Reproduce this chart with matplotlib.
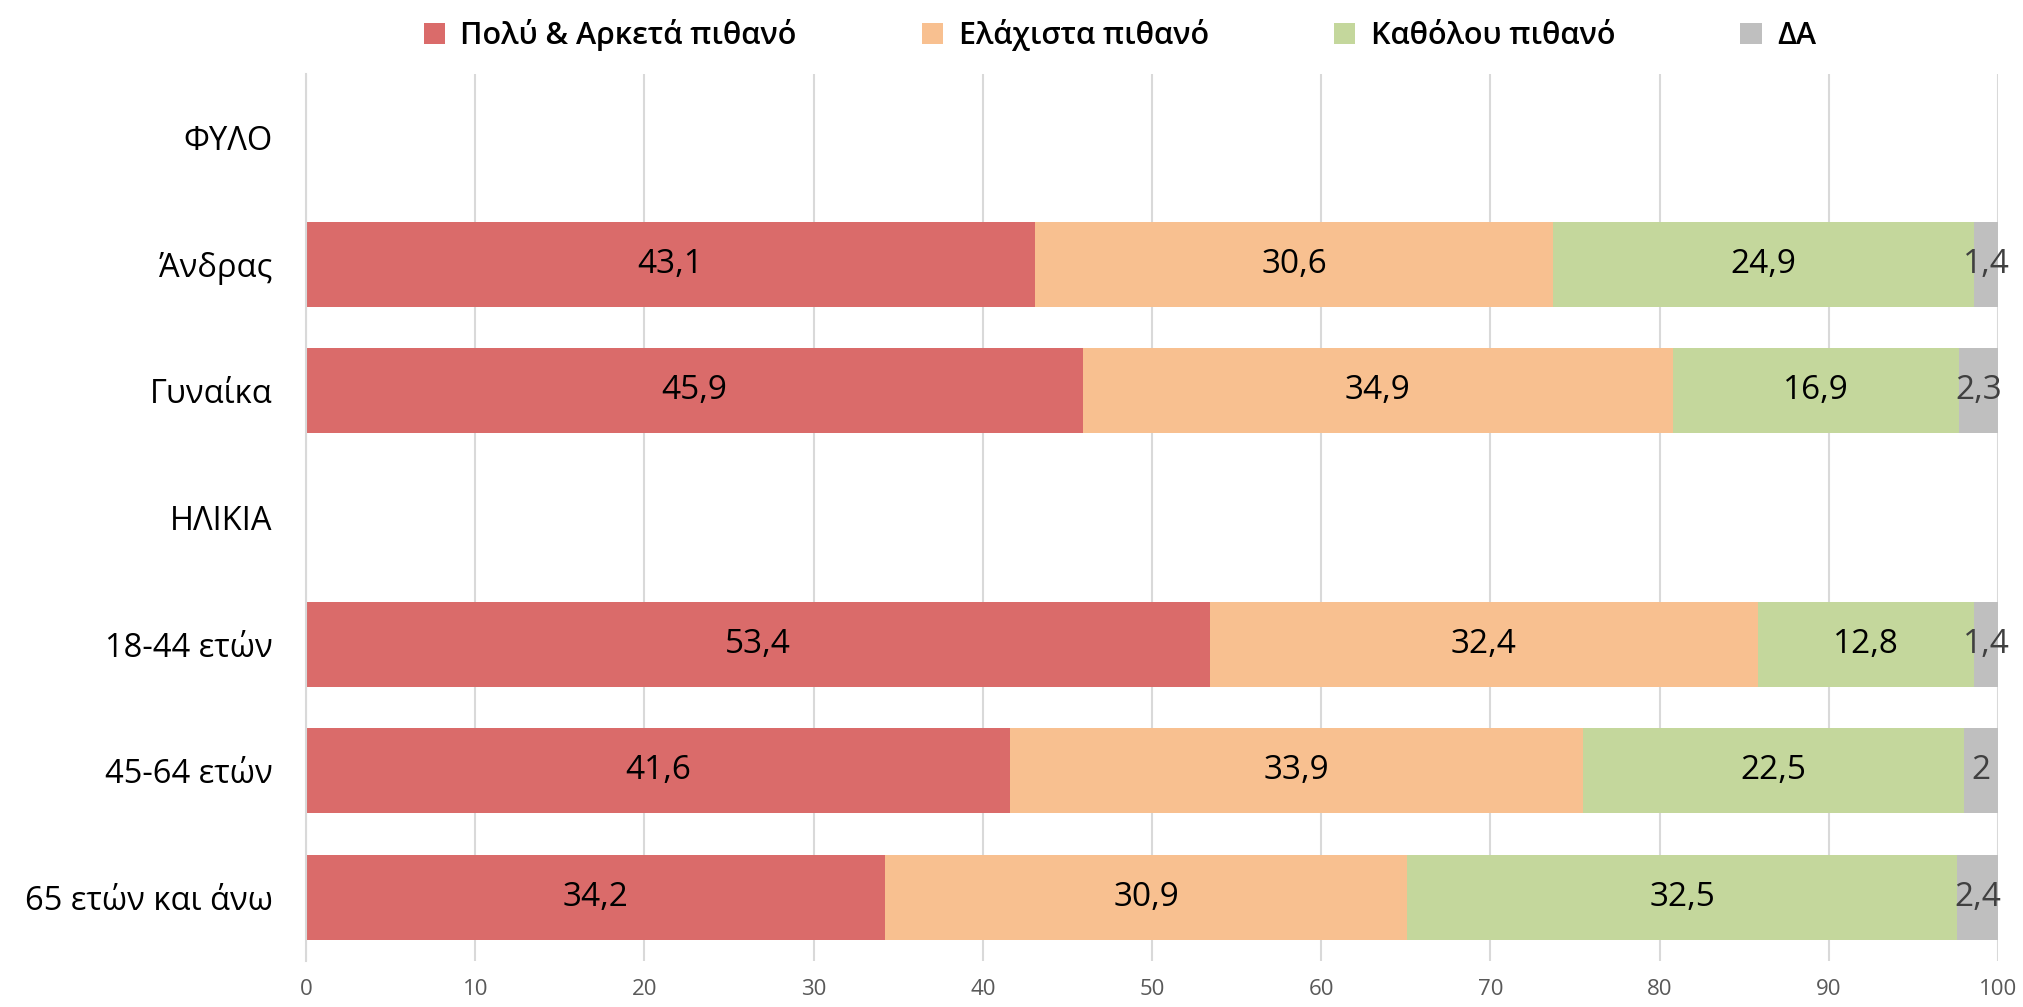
import matplotlib.pyplot as plt
import numpy as np

plt.rcParams['font.family'] = ['Open Sans', 'Noto Sans', 'DejaVu Sans']

categories = ['ΦΥΛΟ', 'Άνδρας', 'Γυναίκα', 'ΗΛΙΚΙΑ', '18-44 ετών', '45-64 ετών', '65 ετών και άνω']
series_names = ['Πολύ & Αρκετά πιθανό', 'Ελάχιστα πιθανό', 'Καθόλου πιθανό', 'ΔΑ']
very_likely = [np.nan, 43.1, 45.9, np.nan, 53.4, 41.6, 34.2]
little_likely = [np.nan, 30.6, 34.9, np.nan, 32.4, 33.9, 30.9]
not_likely = [np.nan, 24.9, 16.9, np.nan, 12.8, 22.5, 32.5]
dont_know = [np.nan, 1.4, 2.3, np.nan, 1.4, 2.0, 2.4]

colors = ['#DA6B6A', '#F8C090', '#C4D79C', '#BFBFBF']
label_colors = ['black', 'black', 'black', '#404040']

fig = plt.figure(figsize=(20.23, 10.07), dpi=100)
ax = fig.add_axes([0.1513, 0.0457, 0.8363, 0.8808])

y = np.arange(len(categories))
left = np.zeros(len(categories))
for name, vals, c, lc in zip(series_names, [very_likely, little_likely, not_likely, dont_know], colors, label_colors):
    vals = np.array(vals, dtype=float)
    v = np.nan_to_num(vals)
    ax.barh(y, v, left=left, height=0.67, color=c, label=name, zorder=2)
    for yi, (l, val) in enumerate(zip(left, vals)):
        if np.isnan(val):
            continue
        txt = ('%g' % val).replace('.', ',')
        ax.text(l + val / 2, yi, txt, ha='center', va='center', fontsize=24, color=lc, zorder=3)
    left = left + v

ax.set_xlim(0, 100)
ax.set_ylim(len(categories) - 0.5, -0.5)
ax.set_xticks(np.arange(0, 101, 10))
ax.set_yticks(y)
ax.set_yticklabels(categories, fontsize=23.5)
ax.tick_params(axis='y', length=0, pad=24)
ax.tick_params(axis='x', length=0, pad=13, labelsize=16, labelcolor='#595959')
ax.grid(axis='x', color='#D9D9D9', linewidth=1.5, zorder=0)
for s in ['top', 'right', 'bottom']:
    ax.spines[s].set_visible(False)
ax.spines['left'].set_color('#D9D9D9')
ax.spines['left'].set_linewidth(1.5)

leg = ax.legend(loc='lower center', bbox_to_anchor=(0.481, 0.995), ncol=4, frameon=False,
                handlelength=0.7, handleheight=0.7, handletextpad=0.5, columnspacing=4.1,
                prop={'size': 22, 'weight': 'semibold'})

fig.savefig('out.png', dpi=100)
